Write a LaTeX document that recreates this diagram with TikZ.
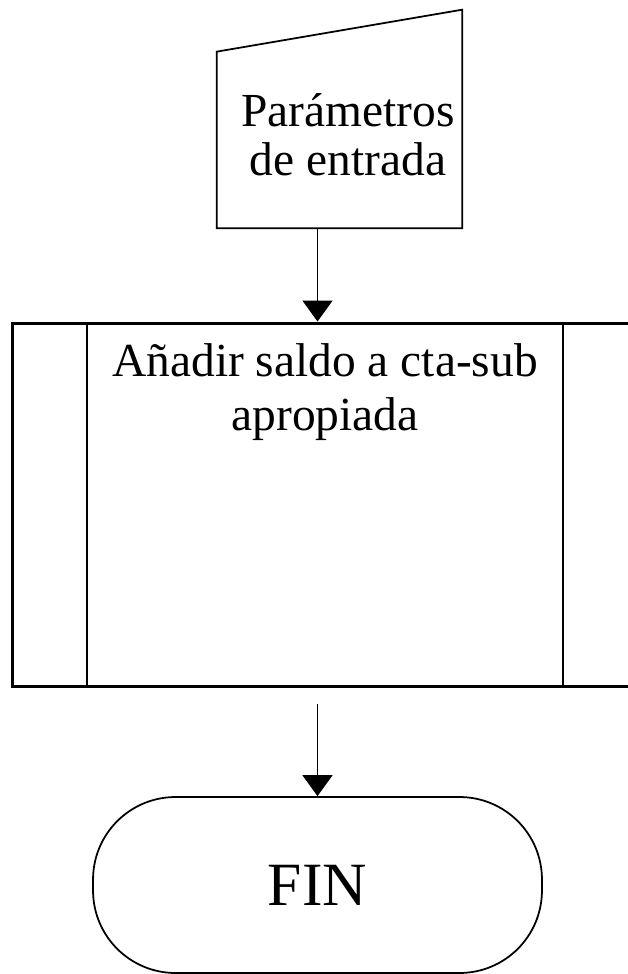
\documentclass[tikz,border=0pt]{standalone}
\usepackage{fontspec}
\setmainfont{Liberation Serif}
\usetikzlibrary{arrows.meta,calc}

\begin{document}
\begin{tikzpicture}[x=0.02cm,y=-0.02cm,
  flecha/.style={line width=0.8pt,-{Triangle[length=0.42cm,width=0.6cm]}},
  texto/.style={align=center,font=\fontsize{27}{28}\selectfont}]
\useasboundingbox (0,0) rectangle (628,974);
\clip (0,0) rectangle (628,974);
% entrada manual
\node[minimum width=4.9cm, minimum height=4.36cm, inner sep=0] (entrada) at (339.5,119) {};
\draw[line width=1pt] (entrada.south west) -- (entrada.south east) -- (entrada.north east)
  -- ($(entrada.north west)+(0,42)$) -- cycle;
\node[texto] at (348,135) {Parámetros\\de entrada};
% subproceso
\node[draw, line width=1.7pt, minimum width=12.52cm, minimum height=7.28cm, inner sep=0] (tarea) at (325,505) {};
\draw[line width=1.1pt] ($(tarea.north west)+(76,0)$) -- ($(tarea.south west)+(76,0)$);
\draw[line width=1.1pt] ($(tarea.north east)+(-76,0)$) -- ($(tarea.south east)+(-76,0)$);
\node[texto, font=\fontsize{27}{31}\selectfont] at (325,392) {Añadir saldo a cta-sub\\apropiada};
% fin
\node[draw, line width=1pt, rounded corners=1.65cm, minimum width=8.98cm, minimum height=3.52cm,
  font=\fontsize{35}{36}\selectfont] (fin) at (317.5,885) {FIN};
\draw[flecha] (entrada.south -| fin.north) -- (tarea.north -| fin.north);
\draw[flecha, shorten <=0.32cm] (tarea.south -| fin.north) -- (fin.north);
\end{tikzpicture}
\end{document}
